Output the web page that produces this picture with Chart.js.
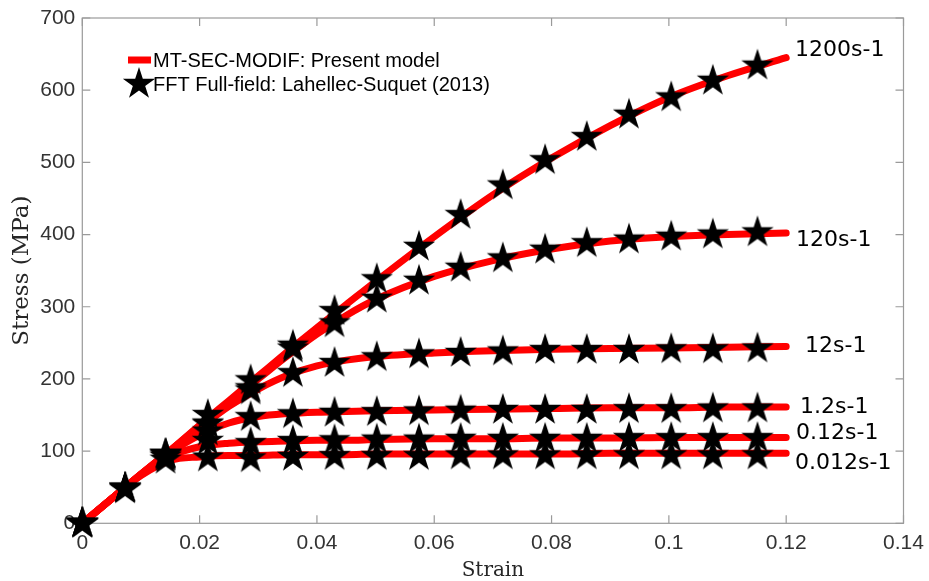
<!DOCTYPE html>
<html>
<head>
<meta charset="utf-8">
<script src="https://cdn.jsdelivr.net/npm/chart.js@4/dist/chart.umd.min.js"></script>
<style>
  html, body { margin: 0; padding: 0; background: #fff; }
  #wrap { width: 929px; height: 581px; }
</style>
</head>
<body>
<div id="wrap"><canvas id="myChart" width="929" height="581"></canvas></div>
<script>
// model curves (red lines)
var modelStrain = [0, 0.005, 0.01, 0.015, 0.02, 0.025, 0.03, 0.035, 0.04, 0.045, 0.05, 0.06, 0.07, 0.08, 0.09, 0.1, 0.11, 0.12];
var m1200 = [0, 34, 68, 101, 136, 170, 204, 238, 271, 303, 335, 397, 455, 506, 551, 590, 620, 645];
var m120 = [0, 34, 68, 101, 135, 168, 200, 232, 262, 288, 310, 342, 364, 380, 391, 397, 400, 402];
var m12 = [0, 34, 68, 101, 132, 162, 186, 205, 218, 226, 231, 236, 239, 241, 242, 243, 244, 245];
var m1_2 = [0, 34, 68, 98, 122, 139, 148, 152, 154, 155, 156, 157, 158, 159, 160, 160, 161, 161];
var m0_12 = [0, 34, 67, 93, 106, 111, 113, 114, 115, 115, 116, 117, 117, 118, 118, 119, 119, 119];
var m0_012 = [0, 34, 66, 87, 92, 94, 94, 95, 95, 95, 96, 96, 96, 96, 97, 97, 97, 97];

// FFT full-field points (stars)
var fftStrain = [0, 0.0073, 0.0142, 0.0214, 0.0287, 0.0359, 0.043, 0.0502, 0.0574, 0.0645, 0.0717, 0.0789, 0.086, 0.0932, 0.1004, 0.1075, 0.1151];
var f1200 = [0, 49, 96, 150, 198, 246, 294, 338, 383, 427, 468, 503, 535, 566, 590, 613, 634];
var f120 = [0, 49, 96, 137, 187, 242, 277, 311, 336, 354, 367, 379, 388, 393, 397, 400, 403];
var f12 = [0, 49, 95, 138, 184, 208, 222, 230, 234, 236, 238, 240, 240, 240, 241, 241, 242];
var f1_2 = [0, 48, 94, 127, 147, 151, 153, 154, 155, 156, 157, 157, 157, 158, 158, 159, 159];
var f0_12 = [0, 48, 92, 114, 111, 114, 115, 116, 116, 117, 117, 117, 117, 118, 118, 118, 118];
var f0_012 = [0, 47, 88, 91, 90, 92, 93, 93, 93, 94, 94, 94, 94, 94, 94, 94, 94];

var rateLabels = ['1200s-1', '120s-1', '12s-1', '1.2s-1', '0.12s-1', '0.012s-1'];
var xTickLabels = ['0', '0.02', '0.04', '0.06', '0.08', '0.1', '0.12', '0.14'];
var yTickLabels = ['0', '100', '200', '300', '400', '500', '600', '700'];
var legendLabels = ['MT-SEC-MODIF: Present model', 'FFT Full-field: Lahellec-Suquet (2013)'];

var modelSeries = [m1200, m120, m12, m1_2, m0_12, m0_012];
var fftSeries = [f1200, f120, f12, f1_2, f0_12, f0_012];

// filled pentagram used as point style
function makeStar(r) {
    var c = document.createElement('canvas');
    var s = Math.ceil(r * 2 + 4);
    c.width = s; c.height = s;
    var g = c.getContext('2d');
    g.fillStyle = '#000';
    g.beginPath();
    for (var i = 0; i < 10; i++) {
        var rad = i % 2 == 0 ? r : r * 0.382;
        var a = -Math.PI / 2 + i * Math.PI / 5;
        var px = s / 2 + rad * Math.cos(a), py = s / 2 + rad * Math.sin(a);
        if (i == 0) g.moveTo(px, py); else g.lineTo(px, py);
    }
    g.closePath();
    g.fill();
    return c;
}
var star = makeStar(17);

function pts(xs, ys) {
    return xs.map(function (x, i) { return {x: x, y: ys[i]}; });
}

var datasets = [];
fftSeries.forEach(function (ys, k) {
    datasets.push({
        label: 'fft' + k,
        data: pts(fftStrain, ys),
        showLine: false,
        pointStyle: star,
        pointRadius: 17,
        clip: false,
        order: 0
    });
});
modelSeries.forEach(function (ys, k) {
    datasets.push({
        label: 'model' + k,
        data: pts(modelStrain, ys),
        showLine: true,
        borderColor: '#ff0000',
        borderWidth: 7,
        borderCapStyle: 'round',
        borderJoinStyle: 'round',
        cubicInterpolationMode: 'monotone',
        pointRadius: 0,
        clip: false,
        order: 1
    });
});

// axes box with inward ticks
var frame = {
    id: 'frame',
    beforeDatasetsDraw: function (chart) {
        var ctx = chart.ctx, a = chart.chartArea;
        var xs = chart.scales.x, ys = chart.scales.y;
        ctx.save();
        ctx.strokeStyle = '#9a9a9a';
        ctx.lineWidth = 1.2;
        ctx.strokeRect(a.left, a.top, a.right - a.left, a.bottom - a.top);
        ctx.beginPath();
        xs.ticks.forEach(function (t) {
            var px = xs.getPixelForValue(t.value);
            ctx.moveTo(px, a.bottom); ctx.lineTo(px, a.bottom - 8);
            ctx.moveTo(px, a.top); ctx.lineTo(px, a.top + 8);
        });
        ys.ticks.forEach(function (t) {
            var py = ys.getPixelForValue(t.value);
            ctx.moveTo(a.left, py); ctx.lineTo(a.left + 8, py);
            ctx.moveTo(a.right, py); ctx.lineTo(a.right - 8, py);
        });
        ctx.stroke();
        ctx.restore();
    },
    afterDraw: function (chart) {
        var ctx = chart.ctx;
        ctx.save();
        // legend
        ctx.strokeStyle = '#ff0000';
        ctx.lineWidth = 7;
        ctx.beginPath();
        ctx.moveTo(128, 60); ctx.lineTo(151, 60);
        ctx.stroke();
        ctx.drawImage(star, 139 - star.width / 2, 84 - star.height / 2);
        ctx.fillStyle = '#000';
        ctx.font = '20px "Liberation Sans", Arial, sans-serif';
        ctx.textBaseline = 'middle';
        ctx.textAlign = 'left';
        ctx.fillText(legendLabels[0], 153, 61);
        ctx.fillText(legendLabels[1], 153, 85);
        // strain rate labels next to curve ends
        var labelPos = [[795, 50], [796, 240], [805, 346], [800, 407], [796, 433], [795, 463]];
        ctx.font = '22px "DejaVu Sans", Verdana, sans-serif';
        rateLabels.forEach(function (txt, i) {
            ctx.fillText(txt, labelPos[i][0], labelPos[i][1]);
        });
        ctx.restore();
    }
};

var ctx = document.getElementById('myChart');
new Chart(ctx, {
    type: 'scatter',
    data: {datasets: datasets},
    options: {
        responsive: false,
        animation: false,
        events: [],
        layout: {padding: {left: 0, top: 15, right: 25.5, bottom: 0}},
        plugins: {legend: {display: false}, tooltip: {enabled: false}},
        scales: {
            x: {
                type: 'linear',
                min: 0, max: 0.14,
                ticks: {
                    stepSize: 0.02,
                    padding: 7,
                    color: '#333',
                    font: {family: '"Liberation Sans", Arial, sans-serif', size: 21},
                    callback: function (v, i) { return xTickLabels[i]; }
                },
                grid: {display: false, drawTicks: false},
                border: {display: false},
                title: {
                    display: true,
                    text: 'Strain',
                    color: '#262626',
                    font: {family: '"DejaVu Serif", serif', size: 20, lineHeight: 1},
                    padding: {top: 0, bottom: 0}
                },
                afterFit: function (s) { s.height = 57.7; s.paddingLeft = 0; s.paddingRight = 0; }
            },
            y: {
                min: 0, max: 700,
                ticks: {
                    stepSize: 100,
                    padding: 7,
                    color: '#333',
                    font: {family: '"Liberation Sans", Arial, sans-serif', size: 21},
                    callback: function (v, i) { return yTickLabels[i]; }
                },
                grid: {display: false, drawTicks: false},
                border: {display: false},
                title: {
                    display: true,
                    text: 'Stress (MPa)',
                    color: '#262626',
                    font: {family: '"DejaVu Serif", serif', size: 23, lineHeight: 1},
                    padding: {top: 10.5, bottom: 0}
                },
                afterFit: function (s) { s.width = 82.3; s.paddingTop = 0; s.paddingBottom = 0; }
            }
        }
    },
    plugins: [frame]
});
</script>
</body>
</html>
